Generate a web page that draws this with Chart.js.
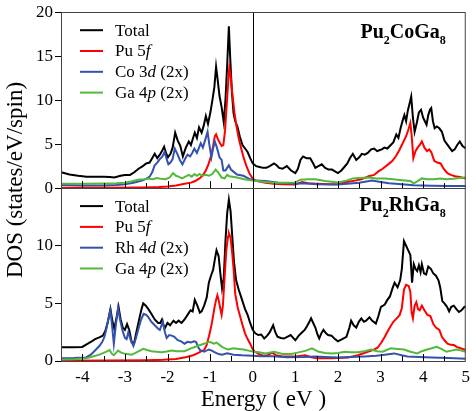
<!DOCTYPE html>
<html>
<head>
<meta charset="utf-8">
<script src="https://cdn.jsdelivr.net/npm/chart.js@4.4.1/dist/chart.umd.min.js"></script>
<style>
  html, body { margin: 0; padding: 0; background: #fff; }
  #grafico { display: block; }
</style>
</head>
<body>
<canvas id="grafico" width="476" height="411"></canvas>
<script>
// Dados: pares [energia (eV), DOS]

// Painel de cima: Pu2CoGa8
const coTotal = [[-4.5,1.8],[-4.3,1.55],[-4.1,1.4],[-3.9,1.3],[-3.7,1.3],[-3.5,1.28],[-3.35,1.25],[-3.25,1.2],[-3.1,1.4],[-3.0,1.5],
  [-2.88,1.5],[-2.78,1.8],[-2.68,2.2],[-2.58,2.5],[-2.5,2.8],[-2.42,2.9],[-2.36,3.4],[-2.3,3.9],[-2.24,3.4],[-2.18,3.8],
  [-2.12,4.3],[-2.08,4.7],[-2.03,3.9],[-1.99,3.5],[-1.93,3.9],[-1.88,4.6],[-1.82,6.3],[-1.76,5.4],[-1.7,4.8],[-1.64,3.6],
  [-1.57,4.6],[-1.5,5.3],[-1.45,4.9],[-1.4,5.7],[-1.36,6.3],[-1.31,5.7],[-1.26,6.9],[-1.2,6.3],[-1.15,7.1],[-1.1,8.2],
  [-1.05,7.3],[-0.99,8.7],[-0.94,10.2],[-0.9,11.5],[-0.86,13.8],[-0.82,12.2],[-0.78,10.5],[-0.73,9.2],[-0.68,7.5],[-0.64,10.0],
  [-0.6,14.0],[-0.56,18.4],[-0.53,15.0],[-0.49,11.0],[-0.45,8.5],[-0.41,7.6],[-0.36,7.0],[-0.3,5.8],[-0.24,4.9],[-0.18,4.5],
  [-0.12,4.1],[-0.06,3.4],[0.0,2.8],[0.08,2.5],[0.16,2.4],[0.24,2.3],[0.32,2.3],[0.4,2.5],[0.5,2.8],[0.56,2.6],
  [0.62,2.3],[0.7,2.2],[0.8,2.5],[0.9,2.0],[1.0,1.7],[1.06,2.2],[1.12,3.2],[1.18,3.6],[1.26,3.4],[1.35,3.4],
  [1.42,2.8],[1.47,2.3],[1.54,2.5],[1.62,2.7],[1.7,2.3],[1.78,2.1],[1.86,2.1],[1.93,1.9],[2.0,1.7],[2.08,2.0],
  [2.15,2.4],[2.22,2.8],[2.28,3.4],[2.35,3.9],[2.43,3.2],[2.5,3.5],[2.56,3.9],[2.63,3.8],[2.7,4.0],[2.78,4.4],
  [2.85,4.5],[2.92,4.2],[2.97,4.3],[3.03,4.4],[3.09,4.6],[3.16,4.5],[3.24,4.9],[3.3,5.2],[3.37,6.1],[3.42,5.7],
  [3.47,6.8],[3.52,7.7],[3.56,8.3],[3.6,7.6],[3.64,8.8],[3.68,9.6],[3.72,10.4],[3.76,8.0],[3.8,6.4],[3.85,7.4],
  [3.9,8.6],[3.95,8.9],[4.0,8.0],[4.04,7.6],[4.08,7.2],[4.12,8.3],[4.16,8.9],[4.19,9.1],[4.23,7.6],[4.27,6.8],
  [4.32,7.0],[4.38,6.8],[4.44,6.4],[4.5,5.4],[4.56,5.0],[4.62,4.6],[4.68,4.2],[4.74,4.4],[4.8,4.9],[4.86,5.3],
  [4.92,4.8],[5.0,4.5]];
const coPu5f = [[-4.5,0.05],[-3.5,0.05],[-2.6,0.08],[-2.2,0.12],[-2.0,0.18],[-1.8,0.3],[-1.6,0.5],[-1.45,0.62],[-1.35,0.8],[-1.25,1.1],
  [-1.18,1.4],[-1.1,2.0],[-1.04,2.7],[-0.98,3.6],[-0.93,4.8],[-0.89,5.9],[-0.86,6.1],[-0.82,5.6],[-0.78,5.2],[-0.73,4.8],
  [-0.69,4.9],[-0.65,6.5],[-0.61,9.5],[-0.57,12.5],[-0.55,13.7],[-0.52,12.8],[-0.48,10.8],[-0.43,8.6],[-0.38,7.0],[-0.33,5.7],
  [-0.27,4.5],[-0.21,3.4],[-0.14,2.4],[-0.08,1.7],[0.0,1.05],[0.1,0.8],[0.3,0.6],[0.5,0.5],[0.7,0.45],[1.0,0.4],
  [1.16,0.7],[1.3,0.55],[1.5,0.5],[1.8,0.45],[2.0,0.45],[2.2,0.7],[2.4,0.85],[2.55,1.0],[2.72,1.35],[2.85,1.5],
  [2.95,1.9],[3.05,2.2],[3.18,2.7],[3.28,3.1],[3.37,3.7],[3.44,4.3],[3.5,4.9],[3.55,5.4],[3.6,5.9],[3.65,6.6],
  [3.7,7.4],[3.73,6.0],[3.77,3.4],[3.82,4.2],[3.87,4.6],[3.92,4.9],[3.97,5.3],[4.03,4.6],[4.09,4.2],[4.14,4.4],
  [4.19,4.1],[4.26,3.1],[4.33,2.9],[4.41,2.8],[4.48,2.2],[4.57,1.7],[4.65,1.5],[4.75,1.35],[4.86,1.25],[5.0,1.1]];
const coCo3d = [[-4.5,0.35],[-4.0,0.3],[-3.5,0.3],[-3.2,0.35],[-3.0,0.45],[-2.8,0.6],[-2.6,0.85],[-2.5,1.05],[-2.42,1.3],[-2.36,1.8],
  [-2.3,2.6],[-2.24,2.9],[-2.18,3.3],[-2.12,3.6],[-2.07,4.1],[-2.02,3.3],[-1.98,2.7],[-1.93,2.9],[-1.88,3.3],[-1.83,4.5],
  [-1.77,3.9],[-1.71,3.2],[-1.65,2.7],[-1.58,3.4],[-1.53,3.8],[-1.47,3.6],[-1.42,4.0],[-1.37,4.5],[-1.31,4.0],[-1.26,4.6],
  [-1.22,5.1],[-1.17,4.6],[-1.12,5.4],[-1.06,6.4],[-1.02,5.0],[-0.97,3.5],[-0.93,4.5],[-0.89,5.3],[-0.84,4.6],[-0.78,3.5],
  [-0.73,3.2],[-0.69,2.0],[-0.64,2.0],[-0.6,2.3],[-0.56,2.6],[-0.51,2.1],[-0.46,1.9],[-0.37,1.55],[-0.22,1.4],[-0.08,1.05],
  [0.05,0.85],[0.3,0.8],[0.6,0.6],[1.0,0.5],[1.2,0.55],[1.5,0.45],[2.0,0.4],[2.5,0.6],[2.8,0.85],[3.0,0.7],
  [3.2,0.55],[3.5,0.45],[3.78,0.32],[4.2,0.28],[4.6,0.25],[5.0,0.25]];
const coGa4p = [[-4.5,0.5],[-4.0,0.5],[-3.5,0.52],[-3.2,0.55],[-3.0,0.6],[-2.85,0.75],[-2.7,0.95],[-2.55,1.0],[-2.45,1.1],[-2.35,1.0],
  [-2.25,1.15],[-2.15,1.05],[-2.05,1.0],[-1.95,1.2],[-1.87,1.7],[-1.8,1.4],[-1.74,1.3],[-1.66,1.1],[-1.58,1.3],[-1.5,1.5],
  [-1.43,1.3],[-1.37,1.6],[-1.31,1.4],[-1.25,1.6],[-1.18,1.4],[-1.1,1.5],[-1.03,1.4],[-0.95,1.6],[-0.87,2.1],[-0.8,1.7],
  [-0.73,1.2],[-0.66,1.1],[-0.6,1.5],[-0.55,1.35],[-0.47,1.3],[-0.37,1.2],[-0.2,1.0],[0.0,0.85],[0.3,0.7],[0.5,0.6],
  [0.8,0.6],[1.0,0.65],[1.12,0.95],[1.3,1.0],[1.47,1.0],[1.7,0.8],[2.0,0.65],[2.2,0.85],[2.35,1.1],[2.5,1.15],
  [2.72,1.2],[2.9,1.1],[3.1,1.1],[3.3,1.0],[3.5,0.9],[3.7,0.8],[3.78,0.55],[3.87,0.8],[3.97,1.1],[4.1,1.0],
  [4.26,1.0],[4.4,1.1],[4.55,1.0],[4.7,1.05],[4.85,1.15],[5.0,1.2]];

// Painel de baixo: Pu2RhGa8
const rhTotal = [[-4.5,1.2],[-4.2,1.2],[-4.0,1.22],[-3.9,1.45],[-3.8,1.65],[-3.7,1.9],[-3.6,2.05],[-3.52,2.2],[-3.46,2.6],[-3.4,3.4],
  [-3.34,4.5],[-3.29,3.4],[-3.25,2.8],[-3.2,3.7],[-3.15,4.7],[-3.1,3.6],[-3.05,2.9],[-3.0,2.7],[-2.95,3.2],[-2.9,2.7],
  [-2.84,1.6],[-2.78,1.6],[-2.72,2.7],[-2.66,3.7],[-2.61,4.5],[-2.57,5.0],[-2.51,4.8],[-2.45,4.5],[-2.38,4.1],[-2.3,3.6],
  [-2.22,3.3],[-2.17,3.3],[-2.13,3.6],[-2.07,2.8],[-2.0,3.3],[-1.94,3.1],[-1.86,3.5],[-1.8,3.3],[-1.74,3.5],[-1.67,3.3],
  [-1.6,3.6],[-1.53,4.0],[-1.46,4.4],[-1.41,4.3],[-1.36,5.3],[-1.3,4.8],[-1.24,4.2],[-1.2,4.3],[-1.14,4.8],[-1.08,5.5],
  [-1.03,6.8],[-0.98,7.4],[-0.93,7.9],[-0.89,8.8],[-0.85,9.6],[-0.8,9.1],[-0.76,7.6],[-0.72,6.3],[-0.68,7.2],[-0.64,10.4],
  [-0.6,12.8],[-0.56,14.0],[-0.52,13.0],[-0.48,10.8],[-0.44,8.6],[-0.39,7.0],[-0.33,6.2],[-0.25,5.3],[-0.18,4.5],[-0.12,4.0],
  [-0.06,3.3],[0.0,2.7],[0.06,2.4],[0.13,2.25],[0.2,2.3],[0.27,1.95],[0.34,2.2],[0.4,2.5],[0.48,3.1],[0.53,2.5],
  [0.58,2.1],[0.66,2.0],[0.73,1.95],[0.81,2.1],[0.89,2.25],[0.95,2.0],[1.0,1.8],[1.08,2.2],[1.16,2.5],[1.22,2.7],
  [1.27,3.0],[1.33,3.4],[1.37,3.7],[1.42,3.3],[1.47,2.9],[1.52,2.3],[1.56,1.95],[1.61,2.4],[1.66,2.7],[1.72,2.4],
  [1.77,2.25],[1.85,2.2],[1.93,1.9],[2.0,1.7],[2.1,1.9],[2.2,2.1],[2.27,2.9],[2.31,3.5],[2.37,3.1],[2.43,2.9],
  [2.49,3.4],[2.55,3.7],[2.61,3.4],[2.66,3.5],[2.74,3.8],[2.8,3.5],[2.89,3.25],[2.95,3.9],[3.01,4.7],[3.1,4.9],
  [3.16,5.3],[3.22,5.6],[3.28,6.3],[3.33,6.8],[3.4,6.4],[3.46,7.0],[3.5,8.0],[3.55,10.4],[3.6,10.0],[3.65,9.6],
  [3.7,9.2],[3.74,6.8],[3.78,8.4],[3.82,8.0],[3.86,7.8],[3.9,8.3],[3.94,7.7],[3.97,8.4],[4.02,7.6],[4.07,7.5],
  [4.12,8.2],[4.18,8.0],[4.24,7.6],[4.3,7.4],[4.36,7.0],[4.4,6.4],[4.45,5.2],[4.5,5.0],[4.56,4.7],[4.61,4.3],
  [4.66,4.7],[4.72,4.8],[4.78,4.5],[4.84,4.25],[4.9,4.4],[4.97,4.7],[5.0,4.7]];
const rhPu5f = [[-4.5,0.03],[-3.5,0.04],[-2.5,0.06],[-2.1,0.1],[-1.8,0.18],[-1.55,0.35],[-1.4,0.5],[-1.3,0.66],[-1.2,0.85],[-1.14,0.95],
  [-1.08,1.4],[-1.03,2.1],[-0.98,2.9],[-0.94,3.7],[-0.9,4.6],[-0.86,5.3],[-0.83,5.7],[-0.8,5.3],[-0.77,4.7],[-0.73,4.0],
  [-0.7,4.8],[-0.66,7.3],[-0.62,9.6],[-0.58,10.8],[-0.56,11.1],[-0.52,10.7],[-0.48,9.3],[-0.45,8.0],[-0.41,5.8],[-0.35,4.6],
  [-0.29,3.8],[-0.23,3.0],[-0.18,2.4],[-0.12,1.9],[-0.06,1.5],[0.0,1.0],[0.05,0.8],[0.15,0.6],[0.25,0.46],[0.35,0.5],
  [0.46,0.72],[0.55,0.5],[0.7,0.4],[1.0,0.4],[1.23,0.5],[1.35,0.35],[1.5,0.23],[1.85,0.23],[2.1,0.28],[2.24,0.3],
  [2.47,0.5],[2.7,0.8],[2.85,1.0],[2.93,1.15],[3.02,1.6],[3.1,2.1],[3.2,2.8],[3.3,3.4],[3.38,3.7],[3.45,4.0],
  [3.5,4.6],[3.55,6.2],[3.6,6.6],[3.66,6.5],[3.7,6.0],[3.73,4.2],[3.76,3.7],[3.8,4.8],[3.84,5.1],[3.88,4.5],
  [3.92,4.4],[3.97,4.8],[4.03,4.4],[4.1,4.0],[4.17,3.9],[4.24,3.2],[4.3,2.9],[4.38,2.7],[4.44,2.1],[4.5,1.8],
  [4.57,1.5],[4.65,1.4],[4.72,1.38],[4.8,1.2],[4.88,1.1],[5.0,0.95]];
const rhRh4d = [[-4.5,0.23],[-4.2,0.25],[-3.92,0.3],[-3.8,0.55],[-3.69,0.95],[-3.6,1.3],[-3.53,1.66],[-3.48,2.1],[-3.44,2.7],[-3.39,3.6],
  [-3.34,4.4],[-3.3,3.0],[-3.26,1.5],[-3.21,3.2],[-3.16,4.6],[-3.11,3.5],[-3.06,2.7],[-3.0,2.0],[-2.96,1.9],[-2.92,2.5],
  [-2.87,1.9],[-2.8,1.3],[-2.74,2.0],[-2.69,2.7],[-2.62,3.6],[-2.56,4.1],[-2.5,4.0],[-2.45,3.8],[-2.38,3.4],[-2.3,3.1],
  [-2.22,2.8],[-2.18,2.7],[-2.14,3.1],[-2.11,3.4],[-2.06,2.5],[-2.02,2.0],[-1.96,2.25],[-1.9,2.2],[-1.84,2.1],[-1.76,1.8],
  [-1.68,1.7],[-1.6,1.5],[-1.53,1.66],[-1.45,1.6],[-1.38,1.7],[-1.33,1.66],[-1.28,1.2],[-1.24,0.95],[-1.14,0.8],[-1.03,1.0],
  [-0.96,0.9],[-0.91,0.8],[-0.8,0.6],[-0.72,0.55],[-0.6,0.66],[-0.45,0.55],[-0.25,0.5],[0.0,0.46],[0.2,0.42],[0.46,0.42],
  [0.8,0.32],[1.2,0.35],[1.47,0.4],[1.7,0.35],[2.0,0.3],[2.3,0.35],[2.62,0.4],[2.9,0.45],[3.1,0.55],[3.32,0.66],
  [3.5,0.5],[3.63,0.4],[3.9,0.35],[4.2,0.3],[4.6,0.25],[5.0,0.2]];
const rhGa4p = [[-4.5,0.12],[-4.2,0.15],[-3.92,0.23],[-3.77,0.37],[-3.6,0.55],[-3.5,0.7],[-3.41,0.85],[-3.36,0.95],[-3.3,0.6],[-3.26,0.5],
  [-3.2,0.75],[-3.16,0.9],[-3.1,0.75],[-3.03,0.66],[-2.95,0.6],[-2.84,0.55],[-2.75,0.7],[-2.65,0.9],[-2.57,1.05],[-2.48,0.95],
  [-2.38,0.85],[-2.26,0.8],[-2.14,0.75],[-2.02,0.82],[-1.91,0.9],[-1.78,0.85],[-1.6,0.85],[-1.45,1.1],[-1.3,1.3],[-1.18,1.45],
  [-1.1,1.55],[-1.03,1.66],[-0.97,1.6],[-0.91,1.5],[-0.85,1.6],[-0.78,1.4],[-0.72,1.23],[-0.65,1.1],[-0.58,1.0],[-0.45,1.1],
  [-0.33,1.05],[-0.22,1.0],[-0.1,0.9],[0.02,0.8],[0.15,0.75],[0.3,0.66],[0.5,0.8],[0.7,0.6],[0.9,0.6],[1.08,0.75],
  [1.25,0.9],[1.39,1.1],[1.55,0.8],[1.7,0.7],[1.85,0.66],[2.0,0.7],[2.16,0.8],[2.3,0.75],[2.47,0.75],[2.62,0.85],
  [2.78,1.0],[2.92,0.85],[3.05,0.8],[3.24,1.1],[3.4,1.05],[3.55,1.0],[3.7,0.8],[3.86,0.66],[3.97,0.85],[4.09,1.0],
  [4.2,1.1],[4.32,1.23],[4.45,1.0],[4.55,0.8],[4.66,0.9],[4.78,1.0],[4.9,0.9],[5.0,0.8]];

// Eixos e textos
const energiaTicks = [-4, -3, -2, -1, 0, 1, 2, 3, 4, 5];
const dosTicksCima = [0, 5, 10, 15, 20];
const dosTicksBaixo = [0, 5, 10];
// '*' alterna itálico, '_' deixa o próximo caractere subscrito
const legendaCo = ['Total', 'Pu 5*f*', 'Co 3*d* (2x)', 'Ga 4*p* (2x)'];
const legendaRh = ['Total', 'Pu 5*f*', 'Rh 4*d* (2x)', 'Ga 4*p* (2x)'];
const tituloCo = 'Pu_2CoGa_8';
const tituloRh = 'Pu_2RhGa_8';
const tituloX = 'Energy ( eV )';
const tituloY = 'DOS (states/eV/spin)';
const cores = ['#000000', '#ff0000', '#3352ad', '#52b93a'];

const FONTE = "'Liberation Serif', 'Times New Roman', serif";

function partesTexto(texto) {
  const runs = [];
  let italico = false;
  for (let i = 0; i < texto.length; i++) {
    const c = texto[i];
    if (c === '*') { italico = !italico; continue; }
    if (c === '_') { runs.push({t: texto[i + 1], it: italico, sub: true}); i++; continue; }
    const ult = runs[runs.length - 1];
    if (ult && !ult.sub && ult.it === italico) ult.t += c;
    else runs.push({t: c, it: italico, sub: false});
  }
  return runs;
}

function fonteRun(r, tam, negrito) {
  const t = r.sub ? Math.round(tam * 0.62) : tam;
  return (r.it ? 'italic ' : '') + (negrito ? 'bold ' : '') + t + 'px ' + FONTE;
}

function larguraRuns(ctx, runs, tam, negrito) {
  let w = 0;
  runs.forEach(r => { ctx.font = fonteRun(r, tam, negrito); w += ctx.measureText(r.t).width; });
  return w;
}

function escreverRuns(ctx, runs, x, y, tam, negrito) {
  runs.forEach(r => {
    ctx.font = fonteRun(r, tam, negrito);
    ctx.fillText(r.t, x, y + (r.sub ? tam * 0.3 : 0));
    x += ctx.measureText(r.t).width;
  });
}

function serie(pontos, eixo, cor, ordem) {
  return {
    data: pontos.map(p => ({x: p[0], y: p[1]})),
    yAxisID: eixo,
    borderColor: cor,
    borderWidth: 2,
    pointRadius: 0,
    fill: false,
    tension: 0,
    order: ordem
  };
}

const paineis = [
  {eixo: 'yCima', legenda: legendaCo, titulo: tituloCo, tituloDy: 26},
  {eixo: 'yBaixo', legenda: legendaRh, titulo: tituloRh, tituloDy: 23}
];

// Moldura, marcas internas, linha de Fermi, legendas e títulos
const molduraPlugin = {
  id: 'moldura',
  afterDatasetsDraw(chart) {
    const {ctx, chartArea, scales} = chart;
    const sx = scales.x;
    ctx.save();

    ctx.strokeStyle = '#000';
    ctx.lineWidth = 1;
    const x0 = Math.round(sx.getPixelForValue(0)) + 0.5;
    ctx.beginPath();
    ctx.moveTo(x0, chartArea.top);
    ctx.lineTo(x0, chartArea.bottom);
    ctx.stroke();

    paineis.forEach(p => {
      const s = scales[p.eixo];
      ctx.strokeStyle = '#444';
      ctx.lineWidth = 1;
      ctx.strokeRect(chartArea.left + 0.5, Math.round(s.top) + 0.5, chartArea.right - chartArea.left - 1, Math.round(s.bottom - s.top));

      // marcas a cada 0.5 eV, para dentro
      ctx.strokeStyle = '#000';
      ctx.beginPath();
      for (let e = sx.min + 0.5; e < sx.max; e += 0.5) {
        const px = Math.round(sx.getPixelForValue(e)) + 0.5;
        const comp = Number.isInteger(e) ? 7 : 5;
        ctx.moveTo(px, s.bottom);
        ctx.lineTo(px, s.bottom - comp);
      }
      ctx.stroke();

      // legenda
      p.legenda.forEach((txt, i) => {
        const y = s.top + 18 + i * 20.8;
        ctx.strokeStyle = cores[i];
        ctx.lineWidth = 2;
        ctx.beginPath();
        ctx.moveTo(80, y);
        ctx.lineTo(103, y);
        ctx.stroke();
        ctx.fillStyle = '#000';
        ctx.textBaseline = 'middle';
        ctx.textAlign = 'left';
        escreverRuns(ctx, partesTexto(txt), 115, y + 1, 17, false);
      });

      // título do composto
      const runs = partesTexto(p.titulo);
      const w = larguraRuns(ctx, runs, 20, true);
      ctx.textBaseline = 'alphabetic';
      escreverRuns(ctx, runs, chartArea.right - 20 - w, s.top + p.tituloDy, 20, true);
    });

    // título do eixo y (comum aos dois painéis)
    ctx.translate(22, 180);
    ctx.rotate(-Math.PI / 2);
    ctx.font = '23px ' + FONTE;
    ctx.textAlign = 'center';
    ctx.textBaseline = 'alphabetic';
    ctx.fillStyle = '#000';
    ctx.fillText(tituloY, 0, 0);
    ctx.restore();
  }
};

function eixoY(ticks, max, peso) {
  return {
    type: 'linear',
    position: 'left',
    stack: 'dos',
    stackWeight: peso,
    offset: false,
    min: 0,
    max: max,
    afterBuildTicks: s => { s.ticks = ticks.map(v => ({value: v})); },
    afterFit: s => { s.width = 61; },
    ticks: {color: '#000', padding: 2, font: {family: FONTE, size: 17}},
    grid: {drawOnChartArea: false, drawTicks: true, tickLength: 6, color: '#000'},
    border: {display: false}
  };
}

const grafico = new Chart(document.getElementById('grafico'), {
  type: 'line',
  data: {
    datasets: [
      serie(coTotal, 'yCima', cores[0], 4),
      serie(coPu5f, 'yCima', cores[1], 3),
      serie(coCo3d, 'yCima', cores[2], 2),
      serie(coGa4p, 'yCima', cores[3], 1),
      serie(rhTotal, 'yBaixo', cores[0], 4),
      serie(rhPu5f, 'yBaixo', cores[1], 3),
      serie(rhRh4d, 'yBaixo', cores[2], 2),
      serie(rhGa4p, 'yBaixo', cores[3], 1)
    ]
  },
  options: {
    responsive: false,
    animation: false,
    layout: {padding: {top: 10, right: 5, left: 0, bottom: 0}},
    plugins: {legend: {display: false}, tooltip: {enabled: false}},
    scales: {
      x: {
        type: 'linear',
        min: -4.5,
        max: 5,
        afterBuildTicks: s => { s.ticks = energiaTicks.map(v => ({value: v})); },
        afterFit: s => { s.height = 50; },
        ticks: {color: '#000', padding: 6, font: {family: FONTE, size: 17}, callback: v => String(v)},
        grid: {display: false, drawTicks: false},
        border: {display: false},
        title: {display: true, text: tituloX, color: '#000', font: {family: FONTE, size: 23}, padding: {top: 0, bottom: -3}}
      },
      // no empilhamento o último eixo declarado fica em cima
      yBaixo: eixoY(dosTicksBaixo, 15, 174),
      yCima: eixoY(dosTicksCima, 20, 177)
    }
  },
  plugins: [molduraPlugin]
});
</script>
</body>
</html>
